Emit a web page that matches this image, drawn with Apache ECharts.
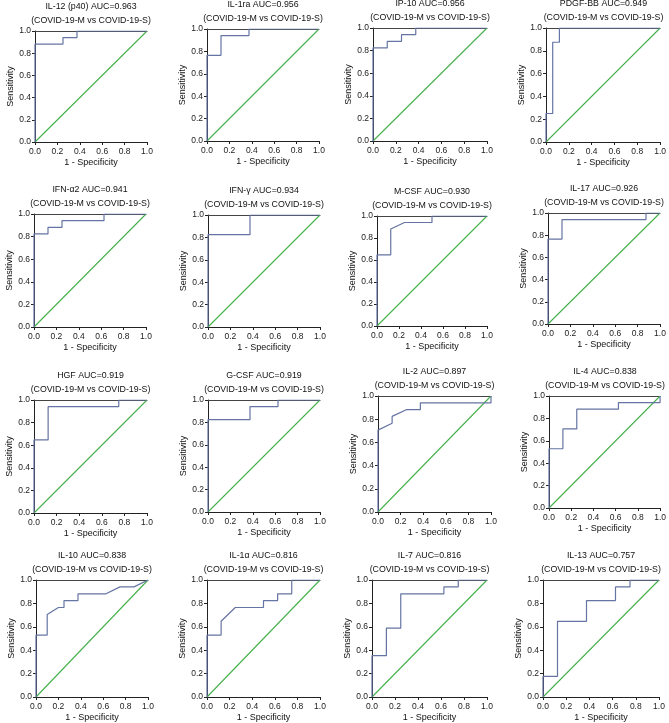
<!DOCTYPE html>
<html><head><meta charset="utf-8">
<script src="https://cdn.jsdelivr.net/npm/echarts@6/dist/echarts.min.js"></script>
<style>html,body{margin:0;padding:0;background:#fff}#c{width:669px;height:723px}</style>
</head><body><div id="c"></div><script>
// ---- data: ROC curves as [1 - specificity, sensitivity] points ----
const markers = ['IL-12 (p40)','IL-1ra','IP-10','PDGF-BB','IFN-α2','IFN-γ','M-CSF','IL-17','HGF','G-CSF','IL-2','IL-4','IL-10','IL-1α','IL-7','IL-13'];
const aucValues = ['0.963','0.956','0.956','0.949','0.941','0.934','0.930','0.926','0.919','0.919','0.897','0.838','0.838','0.816','0.816','0.757'];
const comparison = '(COVID-19-M vs COVID-19-S)';
const rocIL12 = [[0,0],[0,0.882],[0.25,0.882],[0.25,0.941],[0.375,0.941],[0.375,1],[1,1]];
const rocIL1ra = [[0,0],[0,0.765],[0.125,0.765],[0.125,0.941],[0.375,0.941],[0.375,1],[1,1]];
const rocIP10 = [[0,0],[0,0.824],[0.125,0.824],[0.125,0.882],[0.25,0.882],[0.25,0.941],[0.375,0.941],[0.375,1],[1,1]];
const rocPDGFBB = [[0,0],[0,0.25],[0.0588,0.25],[0.0588,0.875],[0.1176,0.875],[0.1176,1],[1,1]];
const rocIFNa2 = [[0,0],[0,0.824],[0.125,0.824],[0.125,0.882],[0.25,0.882],[0.25,0.941],[0.625,0.941],[0.625,1],[1,1]];
const rocIFNg = [[0,0],[0,0.824],[0.375,0.824],[0.375,1],[1,1]];
const rocMCSF = [[0,0],[0,0.647],[0.125,0.647],[0.125,0.882],[0.25,0.941],[0.5,0.941],[0.5,1],[1,1]];
const rocIL17 = [[0,0],[0,0.765],[0.125,0.765],[0.125,0.941],[0.875,0.941],[0.875,1],[1,1]];
const rocHGF = [[0,0],[0,0.647],[0.125,0.647],[0.125,0.941],[0.75,0.941],[0.75,1],[1,1]];
const rocGCSF = [[0,0],[0,0.824],[0.375,0.824],[0.375,0.941],[0.625,0.941],[0.625,1],[1,1]];
const rocIL2 = [[0,0],[0,0.706],[0.125,0.765],[0.125,0.824],[0.25,0.882],[0.375,0.882],[0.375,0.941],[1,0.941],[1,1]];
const rocIL4 = [[0,0],[0,0.529],[0.125,0.529],[0.125,0.706],[0.25,0.706],[0.25,0.882],[0.625,0.882],[0.625,0.941],[1,0.941],[1,1]];
const rocIL10 = [[0,0],[0,0.529],[0.1,0.529],[0.1,0.706],[0.2,0.765],[0.25,0.765],[0.25,0.824],[0.375,0.824],[0.375,0.882],[0.625,0.882],[0.75,0.941],[0.875,0.941],[1,1]];
const rocIL1a = [[0,0],[0,0.529],[0.125,0.529],[0.125,0.647],[0.25,0.765],[0.5,0.765],[0.5,0.824],[0.625,0.824],[0.625,0.882],[0.75,0.882],[0.75,1],[1,1]];
const rocIL7 = [[0,0],[0,0.353],[0.125,0.353],[0.125,0.588],[0.25,0.588],[0.25,0.882],[0.625,0.882],[0.625,0.941],[0.75,0.941],[0.75,1],[1,1]];
const rocIL13 = [[0,0],[0,0.176],[0.125,0.176],[0.125,0.647],[0.375,0.647],[0.375,0.824],[0.625,0.824],[0.625,0.941],[0.75,0.941],[0.75,1],[1,1]];
const curves = [rocIL12,rocIL1ra,rocIP10,rocPDGFBB,rocIFNa2,rocIFNg,rocMCSF,rocIL17,rocHGF,rocGCSF,rocIL2,rocIL4,rocIL10,rocIL1a,rocIL7,rocIL13];
const chanceLine = [[0,0],[1,1]];

// ---- layout (plot rectangles: left, top, right, bottom) ----
const rects = [
  [35,31,147,142],[207,29,319,141],[373,28,487,141],[546,28,661,142],
  [34,214,146,327],[208,215,320,327],[377,216,487,326],[548,213,660,324],
  [34,400,147,513],[208,400,320,512],[378,396,491,512],[549,396,661,508],
  [36,580,148,697],[207,580,320,697],[372,580,487,697],[543,580,659,697]
];
const FONT = '"Liberation Sans", Arial, sans-serif';
const curveColor = '#6574a3';
const diagColor = '#45b04a';
const axisColor = '#222';

const grid = [], xAxis = [], yAxis = [], series = [], title = [];
rects.forEach((r, i) => {
  const [l, t, rr, b] = r;
  grid.push({left: l, top: t, width: rr - l, height: b - t, containLabel: false});
  title.push({
    text: markers[i] + ' AUC=' + aucValues[i] + '\n' + comparison,
    left: (l + rr) / 2, top: t - 31, textAlign: 'center', padding: 0,
    textStyle: {fontFamily: FONT, fontSize: 8.8, fontWeight: 'normal', color: '#111', lineHeight: 14}
  });
  xAxis.push({
    type: 'value', gridIndex: i, min: 0, max: 1, interval: 0.2,
    name: '1 - Specificity', nameLocation: 'middle', nameGap: 16,
    nameTextStyle: {fontFamily: FONT, fontSize: 9, color: '#111'},
    axisLine: {show: true, onZero: false, lineStyle: {color: axisColor, width: 1}},
    axisTick: {show: true, length: 3, lineStyle: {color: axisColor}},
    axisLabel: {fontFamily: FONT, fontSize: 8.5, color: '#222', margin: 5, formatter: v => v.toFixed(1)},
    splitLine: {show: false}
  });
  xAxis.push({
    type: 'value', gridIndex: i, min: 0, max: 1, position: 'top',
    axisLine: {show: true, onZero: false, lineStyle: {color: '#444', width: 1}},
    axisTick: {show: false}, axisLabel: {show: false}, splitLine: {show: false}
  });
  yAxis.push({
    type: 'value', gridIndex: i, min: 0, max: 1, interval: 0.2,
    name: 'Sensitivity', nameLocation: 'middle', nameGap: 20, nameRotate: 90,
    nameTextStyle: {fontFamily: FONT, fontSize: 9, color: '#111'},
    axisLine: {show: true, onZero: false, lineStyle: {color: axisColor, width: 1}},
    axisTick: {show: true, length: 3, lineStyle: {color: axisColor}},
    axisLabel: {fontFamily: FONT, fontSize: 8.5, color: '#222', margin: 4, formatter: v => v.toFixed(1)},
    splitLine: {show: false}
  });
  series.push({
    type: 'line', xAxisIndex: 2 * i, yAxisIndex: i, data: chanceLine.map(p => p.slice()),
    showSymbol: false, silent: true, lineStyle: {color: diagColor, width: 1.1}, z: 2
  });
  series.push({
    type: 'line', xAxisIndex: 2 * i, yAxisIndex: i, data: curves[i].map(p => p.slice()),
    showSymbol: false, silent: true, lineStyle: {color: curveColor, width: 1.2}, z: 3
  });
});

const chart = echarts.init(document.getElementById('c'), null, {renderer: 'canvas'});
chart.setOption({animation: false, backgroundColor: '#fff', title, grid, xAxis, yAxis, series});
</script></body></html>
